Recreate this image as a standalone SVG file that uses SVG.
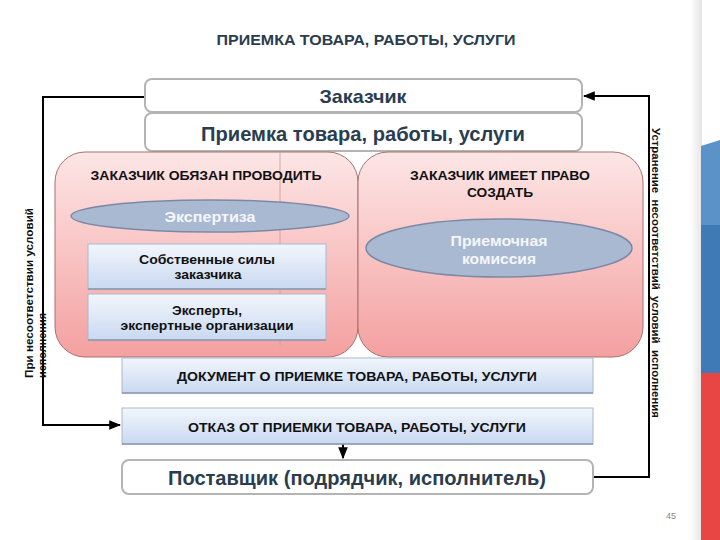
<svg xmlns="http://www.w3.org/2000/svg" width="720" height="540" viewBox="0 0 720 540">
<defs>
<linearGradient id="pink" x1="0" y1="0" x2="0" y2="1">
<stop offset="0" stop-color="#fde6e6"/>
<stop offset="1" stop-color="#f4a0a0"/>
</linearGradient>
<linearGradient id="blue" x1="0" y1="0" x2="0" y2="1">
<stop offset="0" stop-color="#f2f6fc"/>
<stop offset="1" stop-color="#c9d9f1"/>
</linearGradient>
<linearGradient id="edge" x1="0" y1="0" x2="1" y2="0">
<stop offset="0" stop-color="#ffffff"/>
<stop offset="1" stop-color="#e4e4e4"/>
</linearGradient>
<marker id="arr" viewBox="0 0 10 10" refX="9" refY="5" markerWidth="6" markerHeight="6" orient="auto">
<path d="M0,1 L10,5 L0,9 z" fill="#000"/>
</marker>
<style>
.wb{fill:#fff;stroke:#b4b4b4;stroke-width:2}
.big{font-family:"Liberation Sans",Arial,sans-serif;font-weight:bold;fill:#2a3d4f;text-anchor:middle}
.pk{fill:url(#pink);stroke:#a87070;stroke-width:1}
.bx{fill:url(#blue);stroke:#aab8cc;stroke-width:1}
.el{fill:#a9b9d2;stroke:#7c89a6;stroke-width:1.5}
.t{font-family:"Liberation Sans",Arial,sans-serif;font-weight:bold;font-size:13px;fill:#111;text-anchor:middle}
.et{font-family:"Liberation Sans",Arial,sans-serif;font-weight:bold;font-size:14px;fill:#f4f6fa;text-anchor:middle}
.vt{font-family:"Liberation Sans",Arial,sans-serif;font-weight:bold;font-size:11px;fill:#111}
.ln{fill:none;stroke:#000;stroke-width:2}
</style>
</defs>
<rect width="720" height="540" fill="#fff"/>
<g id="flag">
<rect x="690" y="0" width="12" height="540" fill="url(#edge)"/>
<polygon points="701,146 720,140 720,225 701,225" fill="#5b93c8"/>
<rect x="701" y="225" width="19" height="148" fill="#3f7ab6"/>
<rect x="701" y="373" width="19" height="167" fill="#e84545"/>
</g>
<text x="366" y="45" font-family="Liberation Sans,Arial,sans-serif" font-weight="bold" font-size="14.5" fill="#2a3d4f" text-anchor="middle" textLength="299" lengthAdjust="spacingAndGlyphs">ПРИЕМКА ТОВАРА, РАБОТЫ, УСЛУГИ</text>
<g id="connectors">
<polyline class="ln" points="145,97 43,97 43,425 120,425" marker-end="url(#arr)"/>
<polyline class="ln" points="593,477 649,477 649,96 584,96" marker-end="url(#arr)"/>
<polyline class="ln" points="72,216 72,317 86,317" marker-end="url(#arr)"/>
<polyline class="ln" points="72,266 86,266" marker-end="url(#arr)"/>
<line class="ln" x1="343" y1="444" x2="343" y2="458" marker-end="url(#arr)"/>
</g>
<g id="zakazchik">
<rect class="wb" x="145" y="79" width="437" height="33" rx="7"/>
<text class="big" x="363" y="103" font-size="19" textLength="87" lengthAdjust="spacingAndGlyphs">Заказчик</text>
</g>
<g id="priemka">
<rect class="wb" x="145" y="113" width="437" height="38" rx="7"/>
<text class="big" x="363" y="141" font-size="19.5" textLength="324" lengthAdjust="spacingAndGlyphs">Приемка товара, работы, услуги</text>
</g>
<g id="left-panel">
<rect class="pk" x="55" y="152" width="303" height="205" rx="30"/>
<line x1="280" y1="152" x2="280" y2="345" stroke="#c99" stroke-width="0.8"/>
<text class="t" x="206" y="180" textLength="231" lengthAdjust="spacingAndGlyphs">ЗАКАЗЧИК ОБЯЗАН ПРОВОДИТЬ</text>
</g>
<g id="right-panel">
<rect class="pk" x="358" y="152" width="285" height="205" rx="30"/>
<text class="t" x="500" y="180" textLength="180" lengthAdjust="spacingAndGlyphs">ЗАКАЗЧИК ИМЕЕТ ПРАВО</text>
<text class="t" x="500" y="197" textLength="66" lengthAdjust="spacingAndGlyphs">СОЗДАТЬ</text>
</g>
<g id="ekspertiza">
<ellipse class="el" cx="210" cy="216" rx="139" ry="16"/>
<text class="et" x="210" y="222" textLength="91" lengthAdjust="spacingAndGlyphs">Экспертиза</text>
</g>
<g id="komissiya">
<ellipse class="el" cx="499" cy="248" rx="133" ry="29"/>
<text class="et" x="499" y="246" textLength="97" lengthAdjust="spacingAndGlyphs">Приемочная</text>
<text class="et" x="499" y="264" textLength="74" lengthAdjust="spacingAndGlyphs">комиссия</text>
</g>
<g id="sobstv">
<rect class="bx" x="88" y="244" width="238" height="45"/>
<line x1="88" y1="289" x2="326" y2="289" stroke="#8a97ad" stroke-width="1.5"/>
<text class="t" x="207" y="264" textLength="136" lengthAdjust="spacingAndGlyphs">Собственные силы</text>
<text class="t" x="208" y="279" textLength="67" lengthAdjust="spacingAndGlyphs">заказчика</text>
</g>
<g id="eksperty">
<rect class="bx" x="88" y="294" width="238" height="46"/>
<line x1="88" y1="340" x2="326" y2="340" stroke="#8a97ad" stroke-width="1.5"/>
<text class="t" x="207" y="315" textLength="70" lengthAdjust="spacingAndGlyphs">Эксперты,</text>
<text class="t" x="207" y="330" textLength="173" lengthAdjust="spacingAndGlyphs">экспертные организации</text>
</g>
<g id="dokument">
<rect class="bx" x="122" y="358" width="471" height="35"/>
<line x1="122" y1="393" x2="593" y2="393" stroke="#8a97ad" stroke-width="1.5"/>
<text class="t" x="357" y="381" textLength="360" lengthAdjust="spacingAndGlyphs">ДОКУМЕНТ О ПРИЕМКЕ ТОВАРА, РАБОТЫ, УСЛУГИ</text>
</g>
<g id="otkaz">
<rect class="bx" x="122" y="408" width="471" height="36"/>
<line x1="122" y1="444" x2="593" y2="444" stroke="#8a97ad" stroke-width="1.5"/>
<text class="t" x="357" y="432" textLength="338" lengthAdjust="spacingAndGlyphs">ОТКАЗ ОТ ПРИЕМКИ ТОВАРА, РАБОТЫ, УСЛУГИ</text>
</g>
<g id="postavshik">
<rect class="wb" x="122" y="460" width="471" height="34" rx="7"/>
<text class="big" x="357" y="485" font-size="20" textLength="378" lengthAdjust="spacingAndGlyphs">Поставщик (подрядчик, исполнитель)</text>
</g>
<g id="labels">
<text class="vt" transform="translate(33,378) rotate(-90)" textLength="170" lengthAdjust="spacingAndGlyphs">При несоответствии условий</text>
<text class="vt" transform="translate(46,378) rotate(-90)" textLength="65" lengthAdjust="spacingAndGlyphs">исполнения</text>
<text class="vt" transform="translate(652,128) rotate(90)" xml:space="preserve" textLength="290" lengthAdjust="spacingAndGlyphs">Устранение  несоответствий  условий  исполнения</text>
</g>
<text x="671" y="519" font-family="Liberation Sans,Arial,sans-serif" font-size="9" fill="#888" text-anchor="middle">45</text>
</svg>
